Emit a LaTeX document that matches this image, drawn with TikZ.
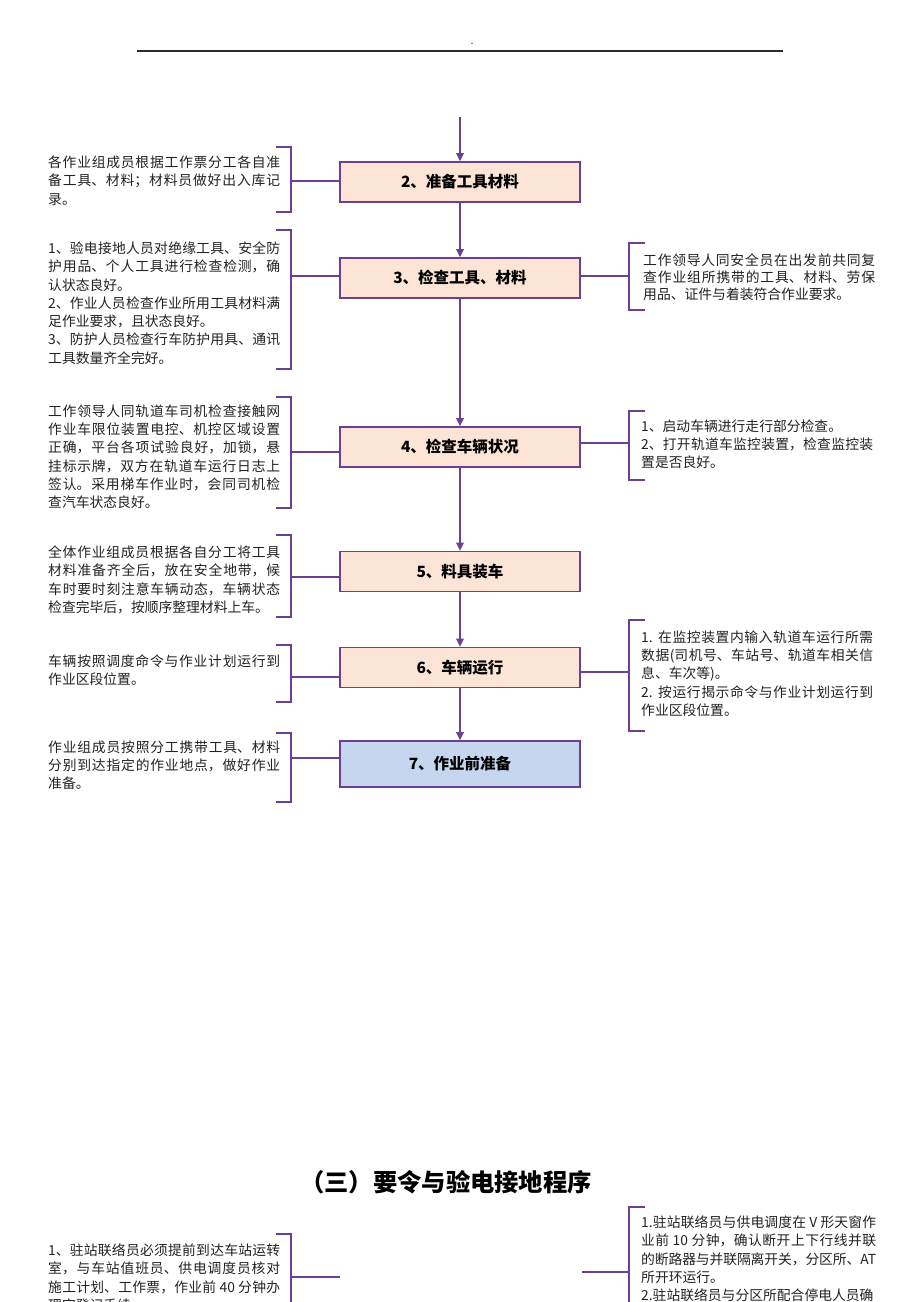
\documentclass[tikz,border=0pt]{standalone}
\usepackage{fontspec}
\setmainfont{Noto Sans CJK SC}
\usetikzlibrary{arrows.meta}
\XeTeXlinebreaklocale "zh"
\XeTeXlinebreakskip=0pt plus 2pt minus 0.4pt
\definecolor{lineP}{RGB}{108,62,148}
\definecolor{peach}{RGB}{252,229,214}
\definecolor{paleblue}{RGB}{198,214,238}
\definecolor{rulegray}{RGB}{45,45,45}
\definecolor{txt}{RGB}{35,35,35}
\tikzset{
  stepbox/.style={draw=lineP, line width=1.6pt, fill=peach, minimum width=240pt, minimum height=40pt, inner sep=0pt, font=\fontsize{15.5}{18}\selectfont\bfseries},
  conn/.style={draw=lineP, line width=1.7pt},
  flow/.style={conn, -{Triangle[length=8pt,width=7.5pt]}},
  note/.style={anchor=north west, inner sep=0pt, text width=232pt, align=justify, text=txt, font=\fontsize{13.8}{18.3}\selectfont},
}
\newcommand\LeftBr[4]{%
  \coordinate (#1) at (291,#3);
  \draw[conn] (276,#2) -- (291,#2) -- (291,#4) -- (276,#4);
}
\newcommand\RightBr[4]{%
  \coordinate (#1) at (629,#3);
  \draw[conn] (645,#2) -- (629,#2) -- (629,#4) -- (645,#4);
}
\begin{document}
\begin{tikzpicture}[x=1pt,y=-1pt]
\clip (0,0) rectangle (920,1302);
\fill[white] (0,0) rectangle (920,1302);

% header
\draw[rulegray, line width=1.4pt] (137,51) -- (783,51);
\node[inner sep=0pt, font=\fontsize{9}{9}\selectfont] (dot) at (472,44) {.};

% boxes
\node[stepbox] (b2) at (460,182) {2、准备工具材料};
\node[stepbox] (b3) at (460,278) {3、检查工具、材料};
\node[stepbox] (b4) at (460,447) {4、检查车辆状况};
\node[stepbox] (b5) at (460,571.5) {5、料具装车};
\node[stepbox] (b6) at (460,667.5) {6、车辆运行};
\node[stepbox, fill=paleblue, minimum height=46pt] (b7) at (460,764) {7、作业前准备};

% flow arrows
\coordinate (start) at (460,117);
\draw[flow] (start) -- (b2);
\draw[flow] (b2) -- (b3);
\draw[flow] (b3) -- (b4);
\draw[flow] (b4) -- (b5);
\draw[flow] (b5) -- (b6);
\draw[flow] (b6) -- (b7);

% left brackets
\LeftBr{l2}{147}{181}{212}
\LeftBr{l3}{230}{276}{369}
\LeftBr{l4}{397}{452}{508}
\LeftBr{l5}{535}{577}{617}
\LeftBr{l6}{645}{677}{702}
\LeftBr{l7}{733}{758}{802}
\draw[conn] (l2) -- (l2 -| b2.west);
\draw[conn] (l3) -- (l3 -| b3.west);
\draw[conn] (l4) -- (l4 -| b4.west);
\draw[conn] (l5) -- (l5 -| b5.west);
\draw[conn] (l6) -- (l6 -| b6.west);
\draw[conn] (l7) -- (l7 -| b7.west);

% right brackets
\RightBr{r3}{243}{276}{310}
\RightBr{r4}{411}{443}{480}
\RightBr{r6}{620}{672}{731}
\draw[conn] (r3 -| b3.east) -- (r3);
\draw[conn] (r4 -| b4.east) -- (r4);
\draw[conn] (r6 -| b6.east) -- (r6);

% left notes
\node[note] (t2) at (48,155.5) {各作业组成员根据工作票分工各自准\linebreak 备工具、材料；材料员做好出入库记\linebreak 录。};
\node[note] (t3) at (48,241.5) {1、验电接地人员对绝缘工具、安全防\linebreak 护用品、个人工具进行检查检测，确\linebreak 认状态良好。\\2、作业人员检查作业所用工具材料满\linebreak 足作业要求，且状态良好。\\3、防护人员检查行车防护用具、通讯\linebreak 工具数量齐全完好。};
\node[note] (t4) at (48,404.5) {工作领导人同轨道车司机检查接触网\linebreak 作业车限位装置电控、机控区域设置\linebreak 正确，平台各项试验良好，加锁，悬\linebreak 挂标示牌，双方在轨道车运行日志上\linebreak 签认。采用梯车作业时，会同司机检\linebreak 查汽车状态良好。};
\node[note] (t5) at (48,545.5) {全体作业组成员根据各自分工将工具\linebreak 材料准备齐全后，放在安全地带，候\linebreak 车时要时刻注意车辆动态，车辆状态\linebreak 检查完毕后，按顺序整理材料上车。};
\node[note] (t6) at (48,654.5) {车辆按照调度命令与作业计划运行到\linebreak 作业区段位置。};
\node[note] (t7) at (48,740.5) {作业组成员按照分工携带工具、材料\linebreak 分别到达指定的作业地点，做好作业\linebreak 准备。};

% right notes
\node[note, text width=232pt, font=\fontsize{13.8}{17}\selectfont] (s3) at (643,253.5) {工作领导人同安全员在出发前共同复\linebreak 查作业组所携带的工具、材料、劳保\linebreak 用品、证件与着装符合作业要求。};
\node[note] (s4) at (641,419.5) {1、启动车辆进行走行部分检查。\\2、打开轨道车监控装置，检查监控装\linebreak 置是否良好。};
\node[note] (s6) at (641,630.5) {1. 在监控装置内输入轨道车运行所需\linebreak 数据(司机号、车站号、轨道车相关信\linebreak 息、车次等)。\\2. 按运行揭示命令与作业计划运行到\linebreak 作业区段位置。};

% section title
\node[font=\fontsize{24.3}{27}\selectfont\bfseries, text=black] (title) at (446,1182) {（三）要令与验电接地程序};

% bottom brackets
\LeftBr{lb}{1234}{1277}{1320}
\coordinate (lbend) at (340,1277);
\draw[conn] (lb) -- (lbend);
\RightBr{rb}{1207}{1272}{1320}
\coordinate (rbend) at (582,1272);
\draw[conn] (rbend) -- (rb);

\node[note] (tb) at (48,1243.5) {1、驻站联络员必须提前到达车站运转\linebreak 室，与车站值班员、供电调度员核对\linebreak 施工计划、工作票，作业前 40 分钟办\linebreak 理完登记手续。};
\node[note, text width=235pt] (sb) at (641,1215.5) {1.驻站联络员与供电调度在 V 形天窗作\linebreak 业前 10 分钟，确认断开上下行线并联\linebreak 的断路器与并联隔离开关，分区所、AT\linebreak 所开环运行。\\2.驻站联络员与分区所配合停电人员确};
\end{tikzpicture}
\end{document}
